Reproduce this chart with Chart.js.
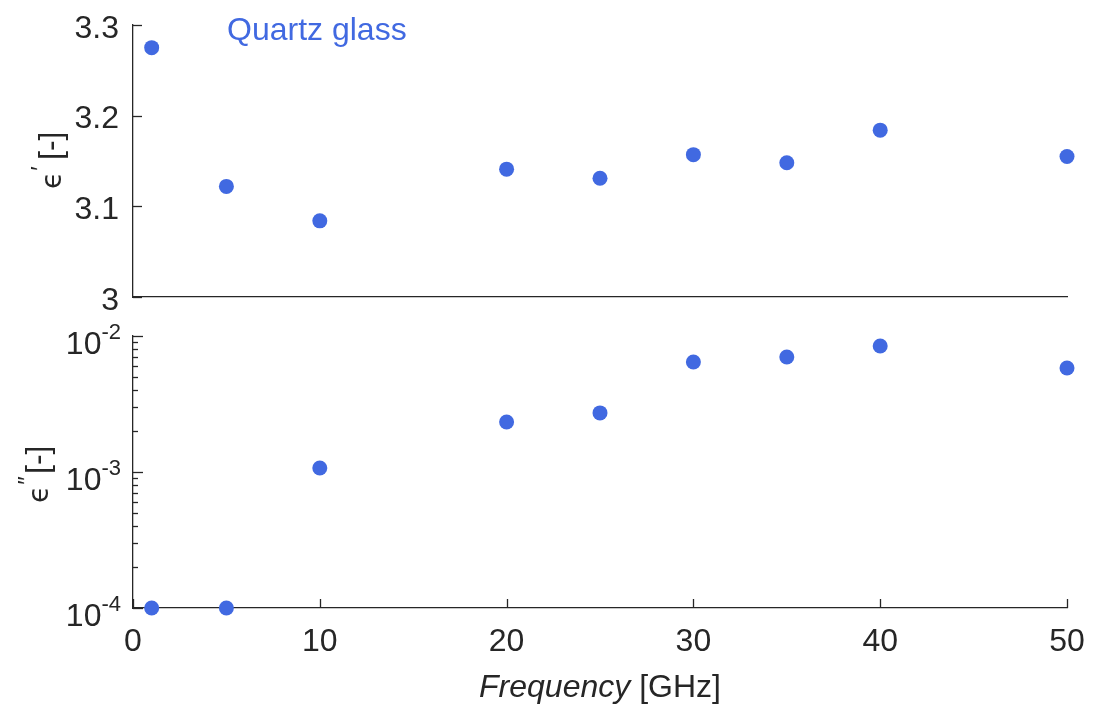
<!DOCTYPE html>
<html><head><meta charset="utf-8">
<script src="https://cdn.jsdelivr.net/npm/chart.js@4"></script>
<style>
html,body{margin:0;padding:0;background:#fff}
#wrap{position:relative;width:1094px;height:704px}
canvas{position:absolute;left:0;top:0}
</style>
</head><body>
<div id="wrap">
<canvas id="cTop" width="1094" height="704" style="width:1094px;height:704px"></canvas>
<canvas id="cBot" width="1094" height="704" style="width:1094px;height:704px"></canvas>
</div>
<script>
// ---- data ----
const frequencies = [1, 5, 10, 20, 25, 30, 35, 40, 50];
const epsReal = [3.275, 3.122, 3.084, 3.141, 3.131, 3.157, 3.148, 3.184, 3.155];
const epsImag = [1.0e-4, 1.0e-4, 1.07e-3, 2.33e-3, 2.72e-3, 6.44e-3, 7.01e-3, 8.44e-3, 5.82e-3];
const realTicks = [3, 3.1, 3.2, 3.3];
const realTickLabels = ['3', '3.1', '3.2', '3.3'];
const imagMajorTicks = [1e-4, 1e-3, 1e-2];
const imagMajorExponents = ['-4', '-3', '-2'];
const xTicks = [0, 10, 20, 30, 40, 50];
const seriesLabel = 'Quartz glass';
const xTitleItalic = 'Frequency';
const xTitleRest = ' [GHz]';

// ---- style ----
const AX = '#262626';
const BLUE = '#4169E1';
const FAM = '"Liberation Sans", Arial, Helvetica, sans-serif';
const FS = 32;

function pts(ys) { return frequencies.map((x, i) => ({x: x, y: ys[i]})); }

function yTitle(ctx, bx, by, prime) {
  ctx.save();
  ctx.translate(bx, by);
  ctx.rotate(-Math.PI / 2);
  ctx.fillStyle = AX;
  ctx.textBaseline = 'alphabetic';
  ctx.textAlign = 'left';
  ctx.font = '28px "DejaVu Sans", ' + FAM;
  ctx.fillText('\u03F5', 0, 0);
  const w = ctx.measureText('\u03F5').width;
  ctx.font = '24px ' + FAM;
  ctx.fillText(prime, w + 1, -13);
  ctx.font = FS + 'px ' + FAM;
  ctx.fillText('[-]', 29, 0);
  ctx.restore();
}

const topPlugin = {
  id: 'topDeco',
  afterDraw(chart) {
    const ctx = chart.ctx, ys = chart.scales.y, ca = chart.chartArea;
    ctx.save();
    ctx.strokeStyle = AX; ctx.lineWidth = 1.3;
    ys.ticks.forEach(t => {
      const y = Math.round(ys.getPixelForValue(t.value)) + 0.5;
      ctx.beginPath(); ctx.moveTo(ca.left, y); ctx.lineTo(ca.left + 9, y); ctx.stroke();
    });
    ctx.restore();
    yTitle(ctx, 61, 189, '\u2032');
    ctx.save();
    ctx.font = FS + 'px ' + FAM;
    ctx.fillStyle = BLUE;
    ctx.textAlign = 'left';
    ctx.textBaseline = 'alphabetic';
    ctx.fillText(seriesLabel, 227, 40);
    ctx.restore();
  }
};

const botPlugin = {
  id: 'botDeco',
  afterDraw(chart) {
    const ctx = chart.ctx, ys = chart.scales.y, xs = chart.scales.x, ca = chart.chartArea;
    ctx.save();
    ctx.strokeStyle = AX; ctx.lineWidth = 1.3;
    ys.ticks.forEach(t => {
      const y = Math.round(ys.getPixelForValue(t.value)) + 0.5;
      const major = imagMajorTicks.some(m => Math.abs(Math.log10(m) - Math.log10(t.value)) < 1e-6);
      ctx.beginPath(); ctx.moveTo(ca.left, y); ctx.lineTo(ca.left + (major ? 10 : 5), y); ctx.stroke();
    });
    xs.ticks.forEach(t => {
      const x = Math.round(xs.getPixelForValue(t.value)) + 0.5;
      ctx.beginPath(); ctx.moveTo(x, ca.bottom); ctx.lineTo(x, ca.bottom - 9); ctx.stroke();
    });
    // log labels 10^n
    ctx.fillStyle = AX;
    ctx.textBaseline = 'alphabetic';
    ctx.textAlign = 'left';
    imagMajorTicks.forEach((v, i) => {
      const y = ys.getPixelForValue(v);
      ctx.font = '22px ' + FAM;
      const ws = ctx.measureText(imagMajorExponents[i]).width;
      ctx.font = FS + 'px ' + FAM;
      const wb = ctx.measureText('10').width;
      const right = 121;
      ctx.fillText('10', right - ws - wb, y + 18);
      ctx.font = '22px ' + FAM;
      ctx.fillText(imagMajorExponents[i], right - ws, y + 3);
    });
    ctx.restore();
    yTitle(ctx, 48, 503, '\u2033');
    // x title
    ctx.save();
    ctx.fillStyle = AX;
    ctx.textBaseline = 'alphabetic';
    ctx.textAlign = 'left';
    ctx.font = 'italic ' + FS + 'px ' + FAM;
    const wi = ctx.measureText(xTitleItalic).width;
    ctx.font = FS + 'px ' + FAM;
    const wr = ctx.measureText(xTitleRest).width;
    const cx = (ca.left + ca.right) / 2;
    const x0 = cx - (wi + wr) / 2;
    ctx.font = 'italic ' + FS + 'px ' + FAM;
    ctx.fillText(xTitleItalic, x0, 697);
    ctx.font = FS + 'px ' + FAM;
    ctx.fillText(xTitleRest, x0 + wi, 697);
    ctx.restore();
  }
};

const common = {
  responsive: false,
  animation: false,
  devicePixelRatio: 1,
  plugins: { legend: { display: false }, tooltip: { enabled: false } },
  events: []
};

new Chart(document.getElementById('cTop'), {
  type: 'scatter',
  data: { datasets: [{ label: seriesLabel, data: pts(epsReal), backgroundColor: BLUE, borderWidth: 0, pointRadius: 7.5, clip: false }] },
  options: Object.assign({}, common, {
    layout: { padding: { left: 0, top: 25, right: 27, bottom: 407 } },
    scales: {
      x: {
        type: 'linear', min: 0, max: 50,
        afterFit(s) { s.height = 0; s.paddingLeft = 0; s.paddingRight = 0; },
        ticks: { display: false },
        grid: { display: false, drawTicks: false },
        border: { color: AX, width: 1.3 }
      },
      y: {
        type: 'linear', min: 3, max: 3.3,
        afterBuildTicks(s) { s.ticks = realTicks.map(v => ({ value: v })); },
        afterFit(s) { s.width = 133; s.paddingTop = 0; s.paddingBottom = 0; },
        ticks: {
          font: { family: FAM, size: FS }, color: AX, padding: 14, labelOffset: 4,
          callback(v) { const i = realTicks.findIndex(t => Math.abs(t - v) < 1e-9); return i >= 0 ? realTickLabels[i] : ''; }
        },
        grid: { display: false, drawTicks: false },
        border: { color: AX, width: 1.3 }
      }
    }
  }),
  plugins: [topPlugin]
});

new Chart(document.getElementById('cBot'), {
  type: 'scatter',
  data: { datasets: [{ label: seriesLabel, data: pts(epsImag), backgroundColor: BLUE, borderWidth: 0, pointRadius: 7.5, clip: false }] },
  options: Object.assign({}, common, {
    layout: { padding: { left: 0, top: 336, right: 27, bottom: 0 } },
    scales: {
      x: {
        type: 'linear', min: 0, max: 50,
        afterBuildTicks(s) { s.ticks = xTicks.map(v => ({ value: v })); },
        afterFit(s) { s.height = 96; s.paddingLeft = 0; s.paddingRight = 0; },
        ticks: { font: { family: FAM, size: FS }, color: AX, padding: 15, callback: v => String(v) },
        grid: { display: false, drawTicks: false },
        border: { color: AX, width: 1.3 }
      },
      y: {
        type: 'logarithmic', min: 1e-4, max: 1e-2,
        afterBuildTicks(s) {
          const t = [];
          for (let d = -4; d < -2; d++) for (let m = 1; m <= 9; m++) t.push({ value: m * Math.pow(10, d) });
          t.push({ value: 1e-2 });
          s.ticks = t;
        },
        afterFit(s) { s.width = 133; s.paddingTop = 0; s.paddingBottom = 0; },
        ticks: { display: false },
        grid: { display: false, drawTicks: false },
        border: { color: AX, width: 1.3 }
      }
    }
  }),
  plugins: [botPlugin]
});
</script>
</body></html>
